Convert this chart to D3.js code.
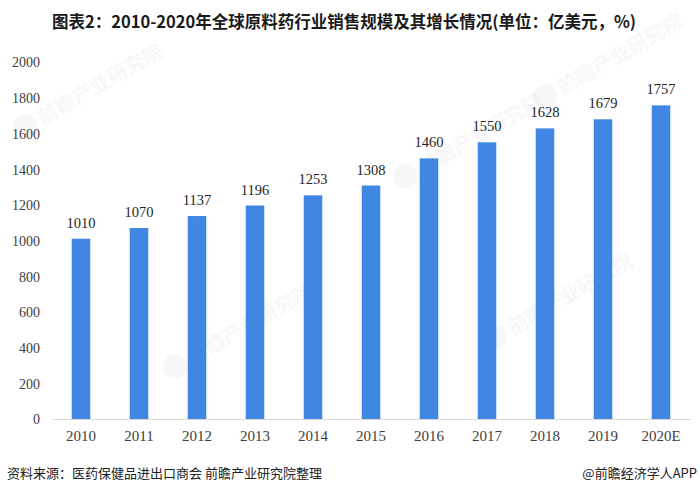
<!DOCTYPE html>
<html><head><meta charset="utf-8">
<script src="https://cdn.jsdelivr.net/npm/d3@7/dist/d3.min.js"></script>
<style>html,body{margin:0;padding:0;background:#fff;}svg{display:block;}</style>
</head><body>
<script>
const categories = ["2010","2011","2012","2013","2014","2015","2016","2017","2018","2019","2020E"];
const values = [1010,1070,1137,1196,1253,1308,1460,1550,1628,1679,1757];
const yTicks = [0,200,400,600,800,1000,1200,1400,1600,1800,2000];
const title = "图表2：2010-2020年全球原料药行业销售规模及其增长情况(单位：亿美元，%)";
const source = "资料来源：医药保健品进出口商会 前瞻产业研究院整理";
const brand = "@前瞻经济学人APP";

const W = 700, H = 494;
const svg = d3.select("body").append("svg").attr("width", W).attr("height", H);
svg.append("rect").attr("width", W).attr("height", H).attr("fill", "#fff");

const serif = "'Liberation Serif','DejaVu Serif',serif";
const cjk = "'Noto Sans CJK SC','Noto Sans',sans-serif";

// faint watermarks
const wm = [[40,120],[420,170],[190,360],[510,330],[560,90]];
wm.forEach(([x,y]) => {
  const g = svg.append("g").attr("transform", `translate(${x},${y}) rotate(-30)`).attr("opacity", 0.045);
  g.append("circle").attr("cx", -16).attr("cy", -2).attr("r", 12).attr("fill", "#555");
  g.append("text").attr("x", 0).attr("y", 6).attr("font-family", cjk).attr("font-size", 20).attr("font-weight", "bold").attr("fill", "#555").text("前瞻产业研究院");
});

const x = d3.scaleBand().domain(categories).range([52, 690]).paddingInner(0.68).paddingOuter(0.34);
const y = d3.scaleLinear().domain([0, 2000]).range([419, 62]);

// title
svg.append("text").attr("x", 344).attr("y", 28).attr("text-anchor", "middle")
  .attr("font-family", cjk).attr("font-weight", "bold").attr("font-size", 16.5).attr("fill", "#1a1a1a")
  .text(title);

// y axis labels
const yAxis = d3.axisLeft(y).tickValues(yTicks).tickFormat(d3.format("d")).tickSize(0).tickPadding(0);
const ya = svg.append("g").attr("transform", "translate(40,0)").call(yAxis);
ya.select(".domain").remove();
ya.selectAll("text").attr("font-family", serif).attr("font-size", 14).attr("fill", "#404040").attr("dy", "0.35em");

// bars
svg.selectAll("rect.bar").data(values).enter().append("rect").attr("class", "bar")
  .attr("x", (d,i) => x(categories[i]))
  .attr("width", x.bandwidth())
  .attr("y", d => y(d))
  .attr("height", d => y(0) - y(d))
  .attr("fill", "#3f87e3");

// value labels
svg.selectAll("text.val").data(values).enter().append("text").attr("class", "val")
  .attr("x", (d,i) => x(categories[i]) + x.bandwidth()/2)
  .attr("y", d => y(d) - 11)
  .attr("text-anchor", "middle")
  .attr("font-family", serif).attr("font-size", 14.5).attr("fill", "#262626")
  .text(d => d);

// x axis
const xAxis = d3.axisBottom(x).tickSize(0).tickPadding(11);
const xa = svg.append("g").attr("transform", `translate(0,${y(0)})`).call(xAxis);
xa.select(".domain").attr("stroke", "#d9d9d9").attr("stroke-width", 1.2);
xa.selectAll("text").attr("font-family", serif).attr("font-size", 15).attr("fill", "#404040");

// footer
svg.append("text").attr("x", 7).attr("y", 478).attr("font-family", cjk).attr("font-size", 13)
  .attr("fill", "#222").text(source);
svg.append("text").attr("x", 697).attr("y", 478).attr("text-anchor", "end").attr("font-family", cjk).attr("font-size", 13)
  .attr("fill", "#222").text(brand);
</script>
</body></html>
